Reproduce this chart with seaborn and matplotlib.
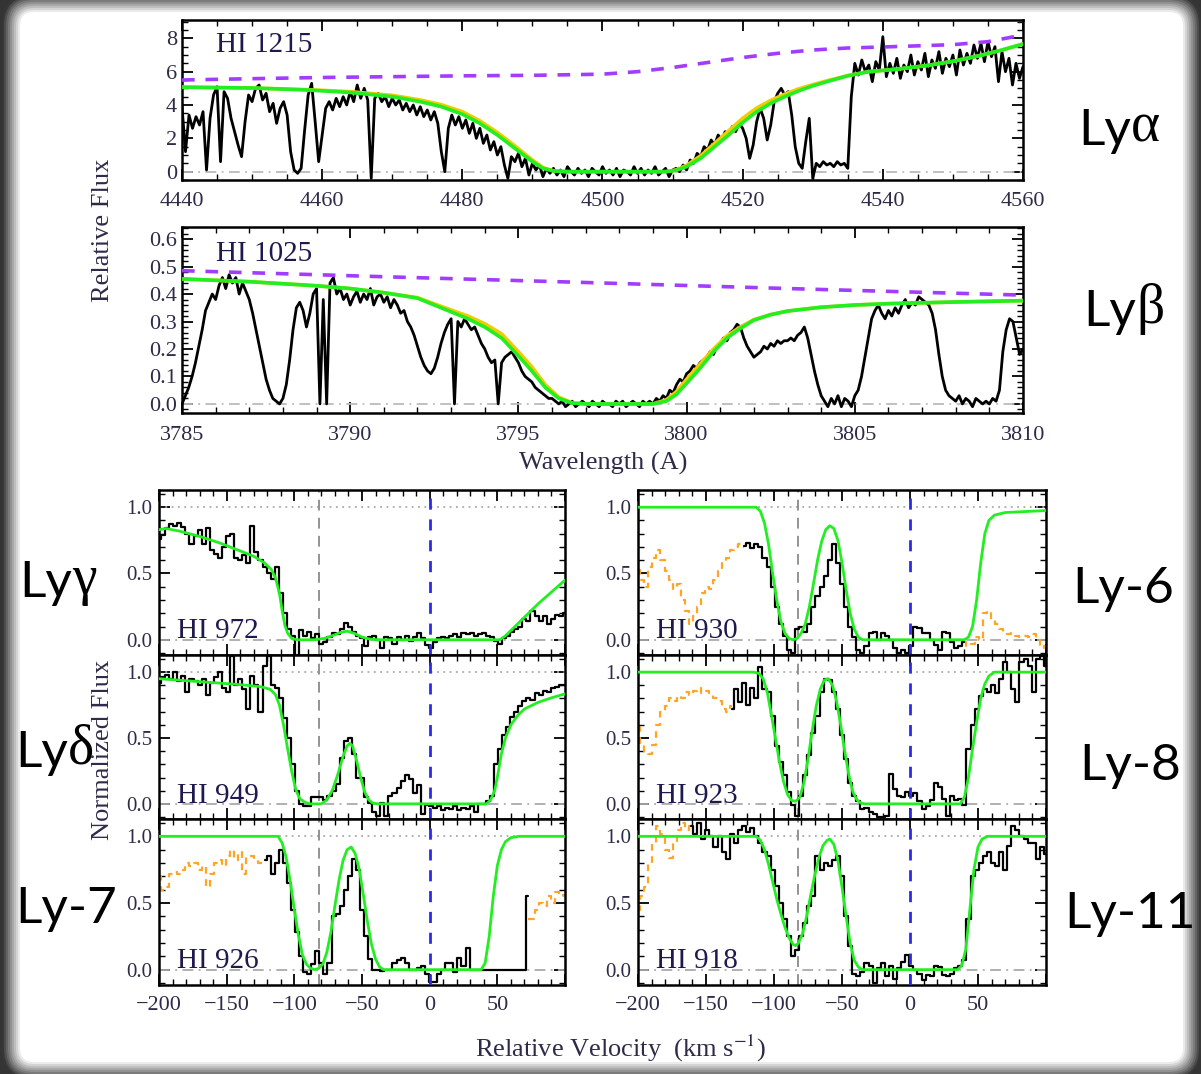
import numpy as np
import matplotlib
matplotlib.use("Agg")
import matplotlib.pyplot as plt
import seaborn as sns
from matplotlib.patches import FancyBboxPatch
from matplotlib.ticker import MultipleLocator, FixedLocator, FormatStrFormatter
from matplotlib.text import Annotation
from matplotlib.transforms import IdentityTransform

# ---------------------------------------------------------------- data
# HI 1215 (Ly-alpha) spectrum, 0.5 A pixels starting at 4440 A
lya_start, lya_step = 4440.0, 0.5
lya_flux = [
    3.9, 1.2, 3.4, 2.6, 3.3, 2.8, 3.6, 0.1, 3.2, 4.6,
    5.1, 0.6, 4.8, 4.4, 3.2, 2.4, 1.6, 0.9, 3.0, 4.6,
    4.2, 5.0, 5.2, 4.3, 4.7, 3.6, 4.1, 2.9, 3.8, 4.2,
    3.4, 1.2, 0.1, -0.1, 0.2, 2.5, 4.6, 5.3, 3.0, 0.6,
    2.2, 3.8, 4.2, 3.7, 4.4, 3.9, 4.5, 4.0, 4.8, 4.2,
    5.2, 4.4, 5.0, 4.3, -0.4, 4.4, 4.7, 4.2, 4.5, 3.9,
    4.4, 4.0, 4.3, 3.7, 4.1, 3.6, 4.0, 3.4, 3.9, 3.3,
    3.7, 3.1, 3.6, 2.9, 1.2, 0.0, 2.6, 3.4, 2.8, 3.3,
    2.6, 3.1, 2.3, 2.9, 2.0, 2.6, 1.7, 2.2, 1.3, 1.8,
    1.0, 1.5, 0.4, -0.4, 0.9, 0.6, 1.1, 0.3, 0.8, -0.2,
    0.5, 0.1, 0.4, -0.3, 0.2, -0.1, 0.2, -0.2, 0.1, -0.3,
    0.3, 0.0, -0.2, 0.2, -0.1, 0.1, -0.3, 0.2, 0.0, -0.2,
    0.3, -0.1, 0.1, -0.2, 0.2, -0.3, 0.1, 0.0, -0.2, 0.3,
    -0.1, 0.2, -0.2, 0.1, -0.1, 0.3, -0.2, 0.0, 0.2, -0.3,
    0.1, 0.2, 0.0, 0.4, 0.1, 0.7, 0.5, 1.1, 0.9, 1.5,
    1.3, 1.9, 1.6, 2.2, 1.9, 2.4, 2.2, 2.7, 2.4, 2.9,
    2.6, 2.0, 0.8, 1.6, 3.0, 3.8, 3.2, 1.9, 2.8, 4.2,
    4.7, 5.0, 4.6, 4.8, 3.4, 1.5, 0.5, 0.2, 1.8, 3.2,
    -0.4, 0.5, 0.3, 0.6, 0.4, 0.5, 0.3, 0.6, 0.4, 0.5,
    0.2, 4.5, 6.5, 5.8, 6.7, 6.0, 6.4, 5.4, 6.6, 6.1,
    8.1, 5.7, 6.5, 5.9, 6.8, 5.6, 6.4, 6.0, 7.0, 5.8,
    6.6, 6.1, 7.1, 5.7, 6.7, 6.2, 7.2, 5.9, 6.8, 6.3,
    7.0, 5.8, 7.3, 6.4, 7.1, 6.5, 7.6, 6.8, 7.7, 6.6,
    7.8, 6.9, 7.5, 5.4, 7.2, 6.0, 6.8, 5.2, 6.5, 5.6,
    6.3,
]
lya_cont_wl = [4440, 4450, 4460, 4470, 4480, 4490, 4500, 4505, 4510, 4515,
               4520, 4525, 4530, 4535, 4540, 4545, 4550, 4555, 4560]
lya_cont_f = [5.5, 5.58, 5.65, 5.7, 5.75, 5.78, 5.85, 6.0, 6.25, 6.55,
              6.85, 7.1, 7.3, 7.42, 7.48, 7.55, 7.62, 7.8, 8.2]
lya_fit_wl = [4440, 4450, 4458, 4464, 4470, 4474, 4477, 4480, 4482.5, 4485,
              4487.5, 4490, 4491.5, 4493, 4495, 4509, 4510.5, 4512, 4514, 4516,
              4518, 4520, 4522, 4524, 4526, 4528, 4530, 4532, 4535, 4538,
              4542, 4546, 4550, 4554, 4557, 4560]
lya_fit_f = [5.07, 5.02, 4.9, 4.75, 4.5, 4.2, 3.9, 3.45, 2.9, 2.2,
             1.4, 0.6, 0.2, 0.04, 0.0, 0.0, 0.08, 0.3, 0.8, 1.5,
             2.2, 2.95, 3.6, 4.1, 4.5, 4.85, 5.15, 5.4, 5.75, 6.0,
             6.15, 6.35, 6.62, 6.98, 7.3, 7.66]
lya_alt_wl = [4440, 4450, 4458, 4464, 4470, 4474, 4477, 4480, 4482.5, 4485,
              4487.5, 4490, 4491.5, 4493, 4495, 4509, 4510.5, 4512, 4514, 4516,
              4518, 4520, 4522, 4524, 4526, 4528, 4530, 4532, 4535, 4538,
              4542, 4546, 4550, 4554, 4557, 4560]
lya_alt_f = [5.07, 5.02, 4.92, 4.8, 4.58, 4.3, 4.02, 3.6, 3.05, 2.35,
             1.55, 0.7, 0.25, 0.05, 0.0, 0.0, 0.1, 0.38, 0.95, 1.7,
             2.45, 3.2, 3.82, 4.28, 4.65, 4.97, 5.22, 5.45, 5.77, 6.0,
             6.15, 6.35, 6.62, 6.98, 7.3, 7.66]

# HI 1025 (Ly-beta) spectrum, 0.1 A pixels starting at 3785 A
lyb_start, lyb_step = 3785.0, 0.1
lyb_flux = [
    0.00, 0.03, 0.06, 0.10, 0.15, 0.21, 0.27, 0.34, 0.37, 0.40,
    0.38, 0.43, 0.46, 0.42, 0.47, 0.44, 0.46, 0.40, 0.44, 0.41,
    0.38, 0.33, 0.27, 0.21, 0.15, 0.09, 0.05, 0.02, 0.01, 0.00,
    0.02, 0.07, 0.16, 0.27, 0.35, 0.37, 0.34, 0.28, 0.33, 0.40,
    0.42, 0.00, 0.38, 0.00, 0.44, 0.46, 0.40, 0.42, 0.38, 0.40,
    0.36, 0.39, 0.41, 0.37, 0.40, 0.38, 0.42, 0.36, 0.39, 0.40,
    0.37, 0.39, 0.35, 0.38, 0.36, 0.33, 0.34, 0.30, 0.28, 0.25,
    0.21, 0.17, 0.14, 0.12, 0.11, 0.13, 0.17, 0.22, 0.26, 0.29,
    0.31, 0.00, 0.30, 0.28, 0.31, 0.29, 0.27, 0.28, 0.25, 0.22,
    0.20, 0.17, 0.15, 0.16, 0.00, 0.15, 0.17, 0.18, 0.19, 0.17,
    0.15, 0.12, 0.10, 0.09, 0.08, 0.06, 0.05, 0.04, 0.03, 0.02,
    0.02, 0.01, 0.00, 0.01, -0.01, 0.00, 0.01, -0.01, 0.00, 0.01,
    0.00, -0.01, 0.01, 0.00, -0.01, 0.01, 0.00, 0.00, -0.01, 0.01,
    0.00, 0.01, -0.01, 0.00, 0.01, 0.00, -0.01, 0.01, 0.00, 0.01,
    0.00, 0.02, 0.01, 0.03, 0.02, 0.05, 0.04, 0.07, 0.09, 0.08,
    0.11, 0.12, 0.14, 0.13, 0.15, 0.16, 0.17, 0.19, 0.18, 0.21,
    0.22, 0.24, 0.23, 0.26, 0.27, 0.29, 0.28, 0.24, 0.21, 0.19,
    0.17, 0.18, 0.19, 0.21, 0.20, 0.22, 0.21, 0.23, 0.22, 0.23,
    0.23, 0.24, 0.23, 0.25, 0.26, 0.28, 0.24, 0.18, 0.12, 0.07,
    0.03, 0.01, -0.01, 0.02, 0.00, 0.03, -0.01, 0.02, 0.01, -0.01,
    0.03, 0.05, 0.10, 0.17, 0.24, 0.31, 0.34, 0.36, 0.33, 0.31,
    0.34, 0.32, 0.35, 0.33, 0.36, 0.38, 0.35, 0.37, 0.36, 0.39,
    0.38, 0.37, 0.36, 0.33, 0.27, 0.18, 0.10, 0.05, 0.03, 0.02,
    0.01, 0.03, 0.00, 0.02, 0.01, -0.01, 0.02, 0.01, 0.00, 0.01,
    0.00, 0.02, 0.01, 0.05, 0.19, 0.27, 0.31, 0.30, 0.24, 0.18,
    0.20,
]
lyb_cont_wl = [3785, 3791, 3797, 3803, 3810]
lyb_cont_f = [0.485, 0.463, 0.442, 0.42, 0.396]
lyb_fit_wl = [3785, 3787, 3789, 3790, 3791, 3792, 3793, 3793.5, 3794, 3794.5,
              3795, 3795.4, 3795.8, 3796.2, 3796.6, 3797, 3799, 3799.4, 3799.7, 3800,
              3800.4, 3800.8, 3801.2, 3801.6, 3802, 3802.5, 3803, 3804, 3805, 3806,
              3808, 3810]
lyb_fit_f = [0.455, 0.445, 0.43, 0.42, 0.405, 0.385, 0.335, 0.31, 0.28, 0.24,
             0.175, 0.12, 0.06, 0.02, 0.003, 0.0, 0.0, 0.01, 0.035, 0.075,
             0.13, 0.19, 0.24, 0.275, 0.305, 0.325, 0.338, 0.352, 0.36, 0.365,
             0.371, 0.376]
lyb_alt_wl = lyb_fit_wl
lyb_alt_f = [0.455, 0.445, 0.43, 0.42, 0.405, 0.387, 0.342, 0.32, 0.292, 0.255,
             0.19, 0.135, 0.07, 0.025, 0.004, 0.0, 0.0, 0.015, 0.045, 0.09,
             0.145, 0.2, 0.248, 0.28, 0.307, 0.325, 0.338, 0.352, 0.36, 0.365,
             0.371, 0.376]

# Velocity-space profiles: 3 km/s pixels, each segment listed from its first velocity
vel_step = 3.0

lyg_v0 = -200
lyg_flux = [
    0.76, 0.79, 0.84, 0.87, 0.86, 0.88, 0.85, 0.80, 0.72, 0.78,
    0.83, 0.72, 0.84, 0.68, 0.65, 0.62, 0.70, 0.78, 0.80, 0.62,
    0.60, 0.64, 0.58, 0.86, 0.66, 0.60, 0.55, 0.50, 0.46, 0.55,
    0.35, 0.20, 0.08, 0.03, -0.12, 0.07, 0.03, 0.06, 0.01, 0.04,
    -0.03, -0.02, 0.02, 0.05, 0.04, 0.08, 0.13, 0.10, 0.06, 0.03,
    0.01, -0.05, 0.02, 0.03, 0.00, -0.06, 0.02, 0.01, -0.03, 0.02,
    0.00, 0.03, -0.01, 0.02, 0.05, 0.01, -0.04, -0.06, -0.02, 0.01,
    0.02, 0.01, 0.03, 0.04, 0.02, 0.05, 0.04, 0.05, 0.03, 0.04,
    0.05, 0.03, 0.02, -0.01, -0.03, 0.01, 0.03, 0.06, 0.08, 0.10,
    0.16, 0.14, 0.22, 0.18, 0.14, 0.18, 0.12, 0.16, 0.19, 0.18,
    0.20,
]
lyg_fit_v = [-200, -195, -185, -170, -155, -140, -130, -122, -117, -114,
             -111, -109, -107, -105, -102, -98, -85, -78, -72, -66,
             -61, -56, -50, -44, -38, 52, 56, 62, 70, 80, 90, 100]
lyg_fit_f = [0.83, 0.84, 0.82, 0.78, 0.73, 0.67, 0.63, 0.58, 0.53, 0.47,
             0.35, 0.22, 0.11, 0.05, 0.01, 0.0, 0.0, 0.01, 0.03, 0.055,
             0.065, 0.05, 0.02, 0.005, 0.0, 0.0, 0.03, 0.09, 0.17, 0.27, 0.36, 0.45]

lyd_v0 = -200
lyd_flux = [
    0.92, 0.96, 0.98, 0.95, 1.00, 0.93, 0.97, 0.85, 0.95, 0.93,
    0.90, 0.95, 0.83, 0.92, 0.96, 1.00, 0.88, 0.85, 1.12, 0.90,
    0.95, 0.87, 0.72, 0.97, 0.90, 0.70, 1.05, 1.12, 0.90, 0.88,
    0.80, 0.65, 0.50, 0.30, 0.10, 0.00, -0.02, -0.02, 0.05, 0.05,
    0.05, 0.03, 0.06, 0.10, 0.15, 0.35, 0.48, 0.50, 0.38, 0.20,
    0.20, 0.05, 0.01, -0.06, -0.09, 0.01, -0.09, 0.06, 0.08, 0.12,
    0.17, 0.22, 0.19, 0.08, 0.14, -0.08, -0.01, -0.02, -0.03, -0.02,
    -0.05, -0.03, -0.04, -0.02, -0.05, -0.03, -0.04, -0.02, -0.06, 0.00,
    0.00, 0.02, 0.06, 0.30, 0.42, 0.52, 0.58, 0.66, 0.70, 0.74,
    0.78, 0.80, 0.79, 0.84, 0.83, 0.86, 0.85, 0.88, 0.89, 0.90,
    0.90,
]
lyd_fit_v = [-200, -180, -160, -140, -125, -118, -114, -111, -108, -105,
             -102, -99, -96, -92, -88, -80, -76, -72, -68, -64,
             -61, -59, -57, -54, -51, -48, -45, -42, -38, 42,
             45, 48, 50, 53, 56, 60, 65, 70, 80, 90, 100]
lyd_fit_f = [0.95, 0.935, 0.92, 0.905, 0.89, 0.87, 0.83, 0.75, 0.6, 0.42,
             0.25, 0.11, 0.04, 0.01, 0.0, 0.0, 0.03, 0.1, 0.22, 0.36,
             0.44, 0.46, 0.44, 0.33, 0.2, 0.09, 0.03, 0.005, 0.0, 0.0,
             0.03, 0.1, 0.2, 0.38, 0.5, 0.6, 0.67, 0.72, 0.77, 0.805, 0.835]

ly7_v0 = -122
ly7_flux = [
    0.82, 0.85, 0.72, 0.80, 0.90, 0.80, 0.65, 0.45, 0.28, 0.10,
    -0.02, -0.03, 0.04, 0.14, 0.05, -0.03, 0.05, 0.40, 0.42, 0.48,
    0.60, 0.70, 0.83, 0.75, 0.45, 0.25, 0.08, 0.00, 0.00, -0.01,
    0.00, 0.00, 0.05, 0.07, 0.09, 0.05, 0.00, 0.00, 0.01, 0.03,
    -0.03, -0.09, -0.09, -0.03, 0.00, 0.05, 0.05, -0.02, 0.09, 0.03,
    0.16, 0.00, 0.00, 0.00, 0.00, 0.00, 0.00, 0.00, 0.00, 0.00,
    0.00, 0.00, 0.00, 0.00, 0.00, 0.55,
]
ly7_blend_lo_v0 = -200
ly7_blend_lo = [
    0.70, 0.60, 0.62, 0.72, 0.73, 0.72, 0.75, 0.80, 0.78, 0.80,
    0.75, 0.78, 0.62, 0.72, 0.80, 0.82, 0.78, 0.85, 0.90, 0.82,
    0.88, 0.72, 0.85, 0.85, 0.82, 0.80, 0.82,
]
ly7_blend_hi_v0 = 73
ly7_blend_hi = [0.38, 0.38, 0.45, 0.50, 0.48, 0.55, 0.50, 0.58, 0.55, 0.56]
ly7_fit_v = [-200, -112, -109, -106, -103, -100, -97, -94, -91, -88,
             -85, -82, -79, -76, -73, -70, -67, -64, -61, -58,
             -55, -52, -49, -46, -43, -40, -37, -34, 38, 41,
             44, 47, 50, 53, 56, 60, 66, 100]
ly7_fit_f = [1.0, 1.0, 0.95, 0.84, 0.66, 0.45, 0.26, 0.11, 0.04, 0.01,
             0.0, 0.01, 0.04, 0.13, 0.28, 0.48, 0.67, 0.82, 0.9, 0.92,
             0.87, 0.75, 0.56, 0.36, 0.19, 0.08, 0.02, 0.0, 0.0, 0.05,
             0.25, 0.55, 0.78, 0.9, 0.96, 0.99, 1.0, 1.0]

ly6_v0 = -122
ly6_flux = [
    0.71, 0.73, 0.69, 0.72, 0.70, 0.62, 0.55, 0.40, 0.25, 0.12,
    0.03, -0.08, -0.10, 0.08, 0.10, 0.06, 0.12, 0.25, 0.33, 0.40,
    0.48, 0.60, 0.72, 0.58, 0.42, 0.25, 0.10, 0.02, -0.08, -0.10,
    -0.05, 0.05, 0.06, 0.00, 0.05, 0.03, 0.00, -0.06, -0.10, -0.08,
    -0.10, -0.05, 0.10, 0.09, 0.05, 0.05, 0.00, -0.04, -0.08, 0.06,
    0.05, -0.02, -0.06, -0.05, -0.02,
]
ly6_blend_lo_v0 = -200
ly6_blend_lo = [
    0.53, 0.45, 0.40, 0.55, 0.62, 0.68, 0.60, 0.52, 0.45, 0.38,
    0.42, 0.30, 0.22, 0.12, 0.18, 0.25, 0.35, 0.40, 0.38, 0.45,
    0.52, 0.58, 0.62, 0.68, 0.70, 0.72, 0.70,
]
ly6_blend_hi_v0 = 40
ly6_blend_hi = [
    -0.02, -0.05, -0.03, 0.02, 0.00, 0.20, 0.22, 0.15, 0.12, 0.08,
    0.05, 0.04, 0.05, 0.03, 0.02, 0.03, 0.02, 0.04, 0.01, -0.06,
    -0.05,
]
ly6_fit_v = [-200, -113, -110, -107, -104, -101, -98, -95, -92, -89,
             -86, -83, -80, -77, -74, -71, -68, -65, -62, -59,
             -56, -53, -50, -47, -44, -41, -38, -35, 40, 43,
             46, 49, 52, 55, 58, 62, 70, 100]
ly6_fit_f = [1.0, 1.0, 0.97, 0.88, 0.72, 0.5, 0.3, 0.14, 0.05, 0.01,
             0.0, 0.01, 0.05, 0.12, 0.25, 0.42, 0.6, 0.74, 0.83, 0.86,
             0.84, 0.75, 0.58, 0.38, 0.2, 0.08, 0.02, 0.0, 0.0, 0.02,
             0.1, 0.3, 0.58, 0.8, 0.9, 0.94, 0.96, 0.975]

ly8_v0 = -131
ly8_flux = [
    0.72, 0.87, 0.77, 0.92, 0.75, 0.88, 0.80, 1.04, 0.87, 0.85,
    0.67, 0.44, 0.32, 0.22, 0.09, -0.01, -0.09, 0.06, 0.22, 0.37,
    0.54, 0.67, 0.85, 0.95, 0.94, 0.85, 0.72, 0.52, 0.34, 0.16,
    0.06, 0.02, -0.04, -0.03, -0.06, -0.08, -0.10, -0.10, -0.09, 0.23,
    0.11, 0.06, 0.05, 0.09, 0.06, 0.08, 0.02, -0.04, -0.02, 0.03,
    0.16, 0.13, 0.04, -0.09, 0.06, 0.03, 0.04, -0.01, 0.42, 0.60,
    0.72, 0.82, 0.87, 0.85, 0.90, 0.84, 0.95, 1.08, 1.00, 0.87,
    0.77, 1.08, 1.10, 1.05, 0.85, 1.10, 1.12, 1.05,
]
ly8_blend_lo_v0 = -200
ly8_blend_lo = [
    0.58, 0.46, 0.40, 0.38, 0.45, 0.60, 0.70, 0.74, 0.80, 0.78,
    0.82, 0.80, 0.85, 0.83, 0.86, 0.88, 0.84, 0.86, 0.84, 0.80,
    0.78, 0.72, 0.70, 0.74,
]
ly8_fit_v = [-200, -115, -111, -108, -105, -102, -99, -96, -93, -90,
             -87, -84, -81, -78, -75, -72, -69, -66, -63, -60,
             -57, -54, -51, -48, -45, -42, -39, -36, -33, 37,
             40, 43, 46, 49, 52, 55, 58, 62, 100]
ly8_fit_f = [1.0, 1.0, 0.99, 0.95, 0.85, 0.68, 0.5, 0.32, 0.17, 0.07,
             0.025, 0.02, 0.05, 0.16, 0.34, 0.55, 0.74, 0.87, 0.94, 0.95,
             0.9, 0.78, 0.6, 0.4, 0.22, 0.09, 0.03, 0.005, 0.0, 0.0,
             0.05, 0.2, 0.42, 0.62, 0.8, 0.91, 0.97, 1.0, 1.0]

ly11_v0 = -161
ly11_flux = [
    1.08, 1.02, 1.10, 0.98, 1.05, 1.00, 0.92, 1.00, 0.88, 0.83,
    1.02, 0.95, 1.05, 1.08, 1.03, 1.06, 1.00, 0.95, 0.88, 0.85,
    0.75, 0.63, 0.50, 0.38, 0.25, 0.10, 0.15, 0.25, 0.35, 0.48,
    0.55, 0.85, 0.75, 0.80, 0.78, 0.82, 0.85, 0.70, 0.40, 0.18,
    -0.03, -0.05, -0.02, 0.05, 0.03, -0.10, 0.01, 0.05, -0.05, 0.03,
    -0.07, 0.01, 0.06, 0.11, 0.03, 0.00, -0.03, -0.08, -0.04, -0.05,
    0.03, 0.02, -0.04, -0.05, -0.03, 0.01, 0.03, 0.07, 0.38, 0.70,
    0.75, 0.80, 0.85, 0.88, 0.80, 0.78, 0.88, 0.75, 0.93, 1.08,
    1.05, 1.00, 0.98, 0.95, 0.95, 0.83, 0.92, 0.87,
]
ly11_blend_lo_v0 = -200
ly11_blend_lo = [0.45, 0.55, 0.62, 0.80, 0.95, 1.08, 1.02, 0.90, 0.84, 0.95,
                 1.05, 1.10, 1.05, 1.08]
ly11_fit_v = [-200, -113, -110, -107, -104, -101, -98, -95, -92, -89,
              -86, -84, -82, -79, -76, -73, -70, -67, -64, -61,
              -59, -56, -53, -50, -47, -44, -41, -38, -35, 35,
              38, 41, 44, 47, 50, 53, 57, 100]
ly11_fit_f = [1.0, 1.0, 0.97, 0.9, 0.79, 0.66, 0.53, 0.42, 0.32, 0.24,
              0.19, 0.18, 0.2, 0.27, 0.4, 0.56, 0.71, 0.84, 0.93, 0.97,
              0.98, 0.94, 0.82, 0.62, 0.4, 0.2, 0.07, 0.02, 0.0, 0.0,
              0.03, 0.15, 0.45, 0.75, 0.92, 0.98, 1.0, 1.0]

# ---------------------------------------------------------------- style
sns.set_theme(style="ticks")
plt.rcParams["font.family"] = ["Liberation Serif", "DejaVu Serif"]
plt.rcParams["mathtext.fontset"] = "stix"
plt.rcParams["axes.unicode_minus"] = True

INK = "#2e2a48"
BLACK = "#000000"
GREEN = "#22ee22"
YELLOW = "#f2cc00"
PURPLE = "#a23cff"
ORANGE = "#ffa424"
BLUE = "#2a2aee"
GREY = "#8a8a8a"

W, H = 1201, 1074
fig = plt.figure(figsize=(W / 100, H / 100), dpi=100)
fig.patch.set_facecolor("#343434")

# soft white card with a dark surround
card = (20, 12, 1183, 1062)   # left, top, right, bottom in pixels from top-left
shades = np.linspace(0.22, 0.92, 9)
for k, g in zip(range(9, 0, -1), shades):
    pad = 2.0 * k
    x0, y0 = card[0] - pad, H - card[3] - pad
    fig.add_artist(FancyBboxPatch((x0, y0), card[2] - card[0] + 2 * pad,
                                  card[3] - card[1] + 2 * pad,
                                  boxstyle="round,pad=0,rounding_size=%g" % (14 + pad),
                                  transform=IdentityTransform(), facecolor=(g, g, g),
                                  edgecolor="none", zorder=-5))
fig.add_artist(FancyBboxPatch((card[0], H - card[3]), card[2] - card[0], card[3] - card[1],
                              boxstyle="round,pad=0,rounding_size=14",
                              transform=IdentityTransform(), facecolor="white",
                              edgecolor="none", zorder=-4))


def axes_px(left, top, right, bottom):
    return fig.add_axes([left / W, 1 - bottom / H, (right - left) / W, (bottom - top) / H])


def trace(ax, x, y, **kw):
    sns.lineplot(x=np.asarray(x, float), y=np.asarray(y, float), ax=ax, estimator=None,
                 sort=False, errorbar=None, legend=False, **kw)


def frame(ax, labelsize):
    for s in ax.spines.values():
        s.set_visible(True)
        s.set_linewidth(1.8)
        s.set_color("black")
    ax.tick_params(which="both", direction="in", top=True, right=True, bottom=True, left=True,
                   color="black", labelcolor=INK, labelsize=labelsize)
    ax.tick_params(which="major", length=8, width=1.3)
    ax.tick_params(which="minor", length=4, width=1.0)
    ax.set_xlabel("")
    ax.set_ylabel("")
    ax.set_facecolor("white")


# ---------------------------------------------------------------- wavelength panels
ax_a = axes_px(182, 20, 1023, 180)
wl_a = lya_start + lya_step * np.arange(len(lya_flux))
ax_a.axhline(0, color="#bbbbbb", lw=1.3, ls=(0, (6, 3, 1, 3)), zorder=1)
trace(ax_a, wl_a, lya_flux, color=BLACK, lw=2.0, zorder=3)
trace(ax_a, lya_alt_wl, lya_alt_f, color=YELLOW, lw=2.6, zorder=4)
trace(ax_a, lya_fit_wl, lya_fit_f, color=GREEN, lw=2.6, zorder=5)
trace(ax_a, lya_cont_wl, lya_cont_f, color=PURPLE, lw=2.6, ls=(0, (3.5, 3)), zorder=6)
ax_a.set_xlim(4440, 4560)
ax_a.set_ylim(-0.5, 9.1)
ax_a.xaxis.set_major_locator(MultipleLocator(20))
ax_a.xaxis.set_minor_locator(MultipleLocator(5))
ax_a.yaxis.set_major_locator(FixedLocator([0, 2, 4, 6, 8]))
ax_a.yaxis.set_minor_locator(MultipleLocator(0.5))
frame(ax_a, 16)
ax_a.tick_params(axis="x", pad=9)
ax_a.text(0.04, 0.80, "HI 1215", transform=ax_a.transAxes, fontsize=21, color="#1e1a50",
          ha="left", va="baseline")

ax_b = axes_px(182, 227, 1023, 413)
wl_b = lyb_start + lyb_step * np.arange(len(lyb_flux))
ax_b.axhline(0, color="#bbbbbb", lw=1.3, ls=(0, (6, 3, 1, 3)), zorder=1)
trace(ax_b, wl_b, lyb_flux, color=BLACK, lw=2.0, zorder=3)
trace(ax_b, lyb_alt_wl, lyb_alt_f, color=YELLOW, lw=2.6, zorder=4)
trace(ax_b, lyb_fit_wl, lyb_fit_f, color=GREEN, lw=2.6, zorder=5)
trace(ax_b, lyb_cont_wl, lyb_cont_f, color=PURPLE, lw=2.6, ls=(0, (3.5, 3)), zorder=6)
ax_b.set_xlim(3785, 3810)
ax_b.set_ylim(-0.033, 0.644)
ax_b.xaxis.set_major_locator(MultipleLocator(5))
ax_b.xaxis.set_minor_locator(MultipleLocator(1))
ax_b.yaxis.set_major_locator(MultipleLocator(0.1))
ax_b.yaxis.set_minor_locator(MultipleLocator(0.02))
ax_b.yaxis.set_major_formatter(FormatStrFormatter("%.1f"))
frame(ax_b, 16)
ax_b.tick_params(axis="x", pad=9)
ax_b.text(0.04, 0.815, "HI 1025", transform=ax_b.transAxes, fontsize=21, color="#1e1a50",
          ha="left", va="baseline")

fig.text(603 / W, 1 - 463 / H, "Wavelength (A)", ha="center", va="center", fontsize=19,
         color=INK)
fig.text(103 / W, 1 - 230 / H, "Relative Flux", ha="center", va="center", fontsize=19,
         rotation=90, color=INK)

# ---------------------------------------------------------------- velocity panels
cols = [(159, 565), (638, 1046)]
rows = [(490, 655), (655, 819), (819, 985)]

panels = [
    (0, 0, "HI 972", (lyg_v0, lyg_flux), [], (lyg_fit_v, lyg_fit_f)),
    (1, 0, "HI 949", (lyd_v0, lyd_flux), [], (lyd_fit_v, lyd_fit_f)),
    (2, 0, "HI 926", (ly7_v0, ly7_flux),
     [(ly7_blend_lo_v0, ly7_blend_lo), (ly7_blend_hi_v0, ly7_blend_hi)], (ly7_fit_v, ly7_fit_f)),
    (0, 1, "HI 930", (ly6_v0, ly6_flux),
     [(ly6_blend_lo_v0, ly6_blend_lo), (ly6_blend_hi_v0, ly6_blend_hi)], (ly6_fit_v, ly6_fit_f)),
    (1, 1, "HI 923", (ly8_v0, ly8_flux),
     [(ly8_blend_lo_v0, ly8_blend_lo)], (ly8_fit_v, ly8_fit_f)),
    (2, 1, "HI 918", (ly11_v0, ly11_flux),
     [(ly11_blend_lo_v0, ly11_blend_lo)], (ly11_fit_v, ly11_fit_f)),
]

for r, c, name, (v0, flux), blends, (fv, ff) in panels:
    ax = axes_px(cols[c][0], rows[r][0], cols[c][1], rows[r][1])
    ax.axhline(1.0, color="#aaaaaa", lw=1.3, ls=(0, (1, 2.5)), zorder=1)
    ax.axhline(0.0, color="#aaaaaa", lw=1.3, ls=(0, (6, 3, 1, 3)), zorder=1)
    ax.axvline(-82, color=GREY, lw=1.3, ls=(0, (6, 4)), zorder=1)
    ax.axvline(0, color=BLUE, lw=2.0, ls=(0, (4, 3.5)), zorder=7)
    for b0, bf in blends:
        trace(ax, b0 + vel_step * np.arange(len(bf)), bf, color=ORANGE, lw=1.6,
              ls=(0, (3, 2.5)), drawstyle="steps-mid", zorder=2)
    trace(ax, v0 + vel_step * np.arange(len(flux)), flux, color=BLACK, lw=1.6,
          drawstyle="steps-mid", zorder=3)
    trace(ax, fv, ff, color=GREEN, lw=2.0, zorder=5)
    ax.set_xlim(-200, 100)
    ax.set_ylim(-0.115, 1.13)
    ax.xaxis.set_major_locator(FixedLocator([-200, -150, -100, -50, 0, 50, 100]))
    ax.xaxis.set_minor_locator(MultipleLocator(10))
    ax.yaxis.set_major_locator(FixedLocator([0.0, 0.5, 1.0]))
    ax.yaxis.set_minor_locator(MultipleLocator(0.1))
    ax.yaxis.set_major_formatter(FormatStrFormatter("%.1f"))
    frame(ax, 15)
    ax.tick_params(axis="y", pad=5)
    if r == 2:
        ax.set_xticklabels(["\u2212200", "\u2212150", "\u2212100", "\u221250", "0", "50", ""])
        ax.tick_params(axis="x", pad=8, labelsize=16)
    else:
        ax.tick_params(axis="x", labelbottom=False)
    ax.text(0.045, 0.10, name, transform=ax.transAxes, fontsize=21, color="#1e1a50",
            ha="left", va="baseline", zorder=8)

fig.text(620 / W, 1 - 1048 / H, r"Relative Velocity  (km s$^{-1}$)", ha="center", va="center",
         fontsize=19, color=INK)
fig.text(103 / W, 1 - 750 / H, "Normalized Flux", ha="center", va="center", fontsize=19,
         rotation=90, color=INK)

# ---------------------------------------------------------------- transition names
def line_name(left, baseline, stem, greek=None):
    t = fig.text(left / W, 1 - baseline / H, stem, family=["Lato", "DejaVu Sans"], fontsize=37,
                 ha="left", va="baseline", color="black")
    if greek:
        fig.add_artist(Annotation(greek, xy=(1.0, 0.0), xycoords=t, ha="left", va="bottom",
                                  family=["Liberation Serif", "DejaVu Serif"], fontsize=40,
                                  color="black"))


line_name(1078, 145, "Ly", "\u03b1")
line_name(1083, 326, "Ly", "\u03b2")
line_name(19, 597, "Ly", "\u03b3")
line_name(15, 767, "Ly", "\u03b4")
line_name(15, 923, "Ly-7")
line_name(1072, 603, "Ly-6")
line_name(1079, 780, "Ly-8")
line_name(1064, 928, "Ly-11")

fig.savefig("out.png", dpi=100, facecolor=fig.get_facecolor())
